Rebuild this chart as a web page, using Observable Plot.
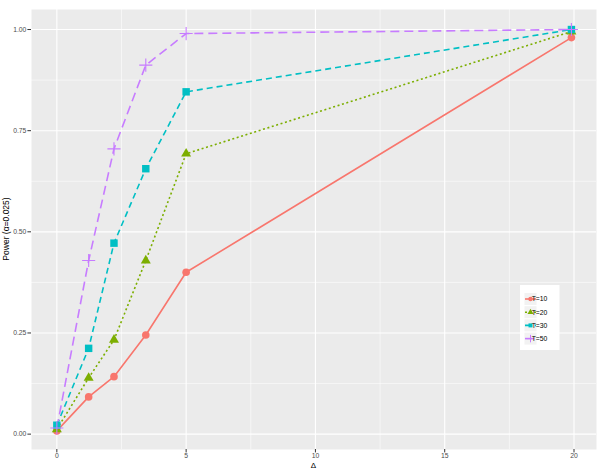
<!DOCTYPE html>
<html>
<head>
<meta charset="utf-8">
<script src="https://cdn.jsdelivr.net/npm/d3@7"></script>
<script src="https://cdn.jsdelivr.net/npm/@observablehq/plot@0.6"></script>
<style>
  body { margin: 0; background: #fff; }
  #chart { width: 600px; height: 468px; }
</style>
</head>
<body>
<div id="chart"></div>
<script>
// Effect size on the x axis, shared by every series
const delta = [0, 1.23, 2.21, 3.44, 5, 19.9];

// Power curves for each trial length T
const seriesNames = ["T=10", "T=20", "T=30", "T=50"];
const powerT10 = [0.008, 0.092, 0.142, 0.245, 0.400, 0.980];
const powerT20 = [0.012, 0.139, 0.233, 0.429, 0.693, 0.995];
const powerT30 = [0.022, 0.212, 0.472, 0.656, 0.846, 1.000];
const powerT50 = [0.015, 0.429, 0.705, 0.912, 0.990, 1.000];

// Axis ticks
const xTicks = [0, 5, 10, 15, 20];
const xTickLabels = ["0", "5", "10", "15", "20"];
const yTicks = [0, 0.25, 0.5, 0.75, 1];
const yTickLabels = ["0.00", "0.25", "0.50", "0.75", "1.00"];
const xMinor = [2.5, 7.5, 12.5, 17.5];
const yMinor = [0.125, 0.375, 0.625, 0.875];

const xTitle = "Δ";
const yTitle = "Power (α=0.025)";

// Per-series appearance (ggplot default hue palette)
const colors = ["#F8766D", "#7CAE00", "#00BFC4", "#C77CFF"];
const dashes = ["none", "2,2.6", "6,4", "9,5"];
const symbols = ["circle", "triangle", "square", "plus"];
const radii = [3.8, 3.7, 4.2, 4.3];

const allPower = [powerT10, powerT20, powerT30, powerT50];
const rows = seriesNames.map((name, s) =>
  delta.map((d, i) => ({series: name, delta: d, power: allPower[s][i]}))
);

const font = "'Liberation Sans', Arial, Helvetica, sans-serif";

const lineMarks = rows.map((data, s) =>
  Plot.line(data, {
    x: "delta", y: "power",
    stroke: colors[s], strokeWidth: 1.6,
    strokeDasharray: dashes[s] === "none" ? undefined : dashes[s],
    strokeLinecap: "butt", strokeLinejoin: "round"
  })
);

const dotMarks = rows.map((data, s) =>
  symbols[s] === "plus"
    ? Plot.dot(data, {x: "delta", y: "power", symbol: () => "plus", r: radii[s], stroke: colors[s], strokeWidth: 1.1, fill: "none"})
    : Plot.dot(data, {x: "delta", y: "power", symbol: () => symbols[s], r: radii[s], fill: colors[s], stroke: "none"})
);

const chart = Plot.plot({
  width: 600,
  height: 468,
  marginLeft: 31,
  marginRight: 4,
  marginTop: 9,
  marginBottom: 19,
  style: {fontFamily: font, background: "#fff"},
  x: {domain: [-0.98, 20.87]},
  y: {domain: [-0.038, 1.0495]},
  symbol: {type: "identity"},
  marks: [
    Plot.frame({fill: "#EBEBEB", stroke: "none"}),
    Plot.gridX(xMinor, {stroke: "#fff", strokeOpacity: 1, strokeWidth: 0.55}),
    Plot.gridY(yMinor, {stroke: "#fff", strokeOpacity: 1, strokeWidth: 0.55}),
    Plot.gridX(xTicks, {stroke: "#fff", strokeOpacity: 1, strokeWidth: 1.1}),
    Plot.gridY(yTicks, {stroke: "#fff", strokeOpacity: 1, strokeWidth: 1.1}),
    ...lineMarks,
    ...dotMarks,
    Plot.axisX({
      ticks: xTicks, tickSize: 3.4, tickPadding: 0.4, fontSize: 6.8,
      tickFormat: d => xTickLabels[xTicks.indexOf(d)],
      stroke: "#333333", fill: "#4D4D4D", label: null
    }),
    Plot.axisY({
      ticks: yTicks, tickSize: 3.6, tickPadding: 1.5, fontSize: 6.8,
      tickFormat: d => yTickLabels[yTicks.indexOf(d)],
      stroke: "#333333", fill: "#4D4D4D", label: null
    })
  ]
});

document.getElementById("chart").appendChild(chart);

// Axis titles and the inset legend
const svg = d3.select(chart);
const xs = chart.scale("x"), ys = chart.scale("y");
const panelMidX = (xs.range[0] + xs.range[1]) / 2;
const panelMidY = (ys.range[0] + ys.range[1]) / 2;

svg.append("text")
  .attr("x", panelMidX).attr("y", 467.5)
  .attr("text-anchor", "middle")
  .attr("font-family", font).attr("font-size", 8).attr("fill", "#000")
  .text(xTitle);

svg.append("text")
  .attr("transform", `translate(8.5,${panelMidY}) rotate(-90)`)
  .attr("text-anchor", "middle")
  .attr("font-family", font).attr("font-size", 8.5).attr("fill", "#000")
  .text(yTitle);

const legend = svg.append("g").attr("transform", "translate(520,285)");
legend.append("rect").attr("width", 39.5).attr("height", 65).attr("fill", "#fff");
const symbolTypes = {circle: d3.symbolCircle, triangle: d3.symbolTriangle, square: d3.symbolSquare, plus: d3.symbolPlus};
const legendSizes = [16, 16, 16, 20];
seriesNames.forEach((name, s) => {
  const cy = 14 + s * 13.2;
  const row = legend.append("g");
  row.append("rect").attr("x", 4.5).attr("y", cy - 6).attr("width", 12).attr("height", 12).attr("fill", "#F2F2F2");
  row.append("line")
    .attr("x1", 5).attr("x2", 16).attr("y1", cy).attr("y2", cy)
    .attr("stroke", colors[s]).attr("stroke-width", 1.6)
    .attr("stroke-dasharray", dashes[s] === "none" ? null : dashes[s]);
  const sym = row.append("path")
    .attr("transform", `translate(10.5,${cy})`)
    .attr("d", d3.symbol(symbolTypes[symbols[s]], legendSizes[s])());
  if (symbols[s] === "plus") sym.attr("fill", "none").attr("stroke", colors[s]).attr("stroke-width", 1);
  else sym.attr("fill", colors[s]);
  row.append("text")
    .attr("x", 19.5).attr("y", cy).attr("dy", "0.35em")
    .attr("font-family", font).attr("font-size", 6.8).attr("fill", "#000")
    .text(name);
});
</script>
</body>
</html>
